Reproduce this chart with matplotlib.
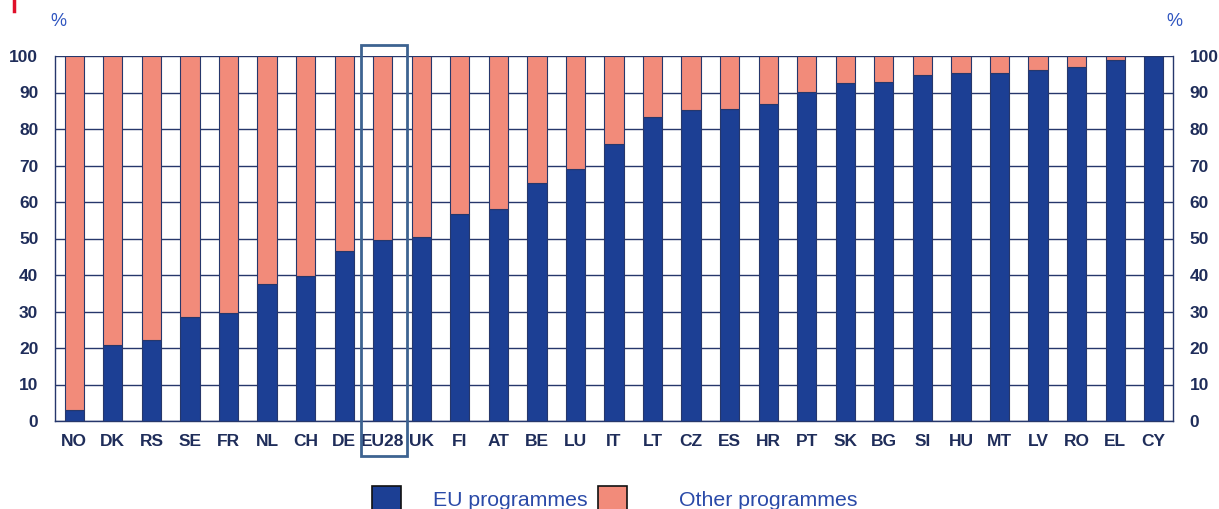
import matplotlib.pyplot as plt
from matplotlib.patches import Rectangle, Patch
from matplotlib.lines import Line2D

countries = ['NO', 'DK', 'RS', 'SE', 'FR', 'NL', 'CH', 'DE', 'EU28', 'UK',
             'FI', 'AT', 'BE', 'LU', 'IT', 'LT', 'CZ', 'ES', 'HR', 'PT',
             'SK', 'BG', 'SI', 'HU', 'MT', 'LV', 'RO', 'EL', 'CY']
eu_share = [2.9, 20.8, 22.2, 28.4, 29.5, 37.4, 39.8, 46.7, 49.5, 50.5,
            56.8, 58.1, 65.1, 69.0, 75.9, 83.2, 85.2, 85.6, 86.8, 90.2,
            92.7, 92.9, 94.9, 95.4, 95.4, 96.2, 97.1, 98.9, 100.0]
other_share = [100 - v for v in eu_share]
yticks = [0, 10, 20, 30, 40, 50, 60, 70, 80, 90, 100]

navy = '#1c3f94'
salmon = '#f28b7a'
edge = '#26376b'
label_col = '#1f2d5a'
pct_col = '#2f55c0'
legend_col = '#2a4aa8'

plt.rcParams['font.family'] = ['Liberation Sans', 'DejaVu Sans']

W, H = 1219, 509
fig = plt.figure(figsize=(W / 100, H / 100), dpi=100)
ax = fig.add_axes([55 / W, 1 - 421 / H, 1118 / W, 365 / H])

x = list(range(len(countries)))
ax.bar(x, eu_share, width=0.5, color=navy, edgecolor=edge, linewidth=0.8, zorder=3)
ax.bar(x, other_share, bottom=eu_share, width=0.5, color=salmon,
       edgecolor=edge, linewidth=0.8, zorder=3)

ax.set_xlim(-0.5, len(countries) - 0.5)
ax.set_ylim(0, 100)
ax.set_yticks(yticks)
ax.yaxis.grid(True, color=edge, linewidth=1.0, zorder=1)
ax.set_axisbelow(True)
ax.spines['top'].set_visible(False)
for s in ['left', 'right', 'bottom']:
    ax.spines[s].set_color(edge)
    ax.spines[s].set_linewidth(1.0)

ax.set_xticks(x)
ax.set_xticklabels(countries, fontsize=12.5, fontweight='bold', color=label_col)
ax.tick_params(axis='x', length=0, pad=9)
ax.tick_params(axis='y', length=0, pad=12, labelsize=12.5, labelcolor=label_col,
               labelright=True, right=False)
for t in ax.yaxis.get_major_ticks():
    t.label1.set_fontweight('bold')
    t.label2.set_fontweight('bold')

fig.text(50 / W, 1 - 22 / H, '%', color=pct_col, fontsize=13, ha='left', va='center')
fig.text(1166 / W, 1 - 22 / H, '%', color=pct_col, fontsize=13, ha='left', va='center')

# highlight box around EU28
i_eu = countries.index('EU28')
ax.add_patch(Rectangle((i_eu - 0.55, -9.5), 1.17, 112.5, fill=False, edgecolor='#3d6391',
                       linewidth=2, clip_on=False, zorder=5))

# small red mark top-left
fig.add_artist(Line2D([14 / W, 14 / W], [1.0, 1 - 11 / H], color='#e0102a', linewidth=2.5))

# legend entries, placed one by one
entries = [(navy, 'EU programmes', 372, 1.5), (salmon, 'Other programmes', 598, 2.45)]
for col, name, left, pad in entries:
    h = Patch(facecolor=col, edgecolor='#111111', linewidth=1.2, label=name)
    fig.legend(handles=[h], loc='center left', bbox_to_anchor=(left / W, 1 - 499 / H),
               frameon=False, fontsize=15.3, labelcolor=legend_col,
               handlelength=1.35, handleheight=1.5, handletextpad=pad,
               borderpad=0, borderaxespad=0)

fig.savefig('out.png', dpi=100)
